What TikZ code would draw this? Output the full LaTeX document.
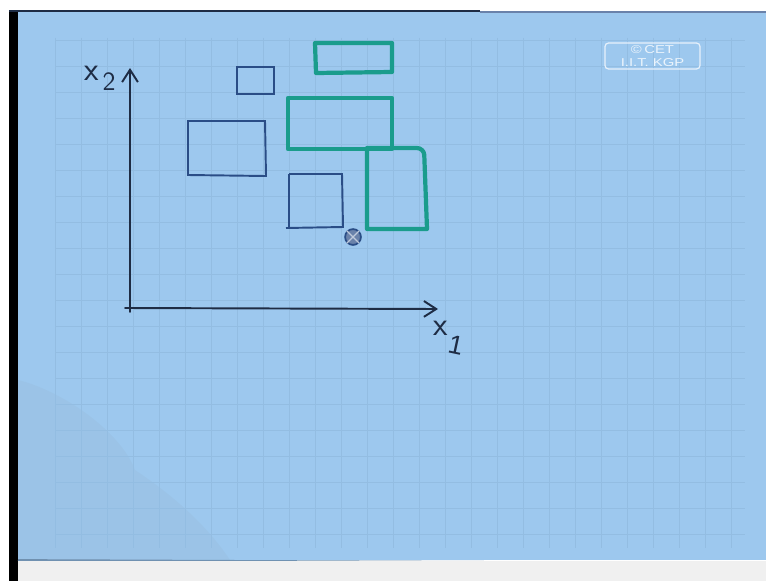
\documentclass[tikz,border=0pt]{standalone}
\usepackage{fontspec}
\newfontfamily\labelfont{Liberation Sans}
\usetikzlibrary{arrows.meta}
\definecolor{paper}{HTML}{9DC8EE}
\definecolor{gridc}{HTML}{93BDE2}
\definecolor{ink}{HTML}{1E2C44}
\definecolor{navy}{HTML}{2A4D86}
\definecolor{teal}{HTML}{1A9C8C}
\tikzset{
  bluebox/.style={draw=navy,line width=1.1pt},
  greenbox/.style={draw=teal,line width=2.4pt,line join=round},
  axis/.style={draw=ink,line width=1.1pt,line cap=round},
  hand/.style={text=ink,font=\sffamily\fontsize{19}{20}\selectfont,inner sep=0pt},
  handsub/.style={text=ink,font=\sffamily\fontsize{15}{16}\selectfont,inner sep=0pt}
}
\begin{document}
\begin{tikzpicture}[x=0.02cm,y=-0.02cm,>={Straight Barb[length=7pt,width=9pt,line width=1.1pt]}]
  \useasboundingbox (0,0) rectangle (766,581);
  \fill[white] (0,0) rectangle (766,581);

  % paper and frame
  \fill[paper] (18,12) rectangle (766,560);
  \fill[black] (9,10) rectangle (18,581);
  \draw[ink,line width=1.2pt] (9,11) -- (480,11);
  \draw[navy!70,line width=0.6pt] (480,12) -- (766,12);
  \draw[gridc!70!ink,line width=1pt] (18,560) -- (766,563);
  \fill[gray!12!white] (18,561) rectangle (766,581);

  % shadow lower left
  \fill[gray,opacity=0.06] (18,380) .. controls (60,390) and (120,430) .. (135,470)
    .. controls (180,500) and (210,530) .. (230,560) -- (18,560) -- cycle;

  % grid
  \foreach \gx in {55,81,...,745} \draw[gridc,line width=0.45pt] (\gx,38) -- (\gx,548);
  \foreach \gy in {40,66,...,548} \draw[gridc,line width=0.45pt] (55,\gy) -- (745,\gy);

  % copyright tag
  \draw[white!75!paper,line width=0.7pt,rounded corners=2pt] (605,43) rectangle (700,69);
  \node[text=white!80!paper,font=\labelfont\fontsize{6.5}{7.5}\selectfont,align=center,inner sep=0pt] (tag) at (652.5,56) {\scalebox{1.3}[1]{\copyright\,CET}\\\scalebox{1.3}[1]{I.I.T. KGP}};

  % axes
  \coordinate (Ytop) at (130,68);
  \coordinate (Xend) at (438,309);
  \draw[axis,->] (130,312) -- (Ytop);
  \draw[axis,->] (125,308) -- (Xend);
  \node[hand] (x2) at (92,73) {x};
  \node[handsub] (x2sub) at (109,82) {2};
  \node[hand] (x1) at (441,328) {x};
  \node[handsub,rotate=-12] (x1sub) at (456,345) {\labelfont 1};

  % blue boxes
  \draw[bluebox] (237,67) rectangle (274,94);
  \draw[bluebox] (188,121) -- (265,121) -- (266,176) -- (188,175) -- cycle;
  \draw[bluebox] (289,174) -- (342,174) -- (343,227) -- (286,228);
  \draw[bluebox] (289,174) -- (289,228);

  % green boxes
  \draw[greenbox] (315,43) -- (392,43) -- (392,72) -- (316,73) -- cycle;
  \draw[greenbox] (288,98) -- (392,98) -- (392,149) -- (288,149) -- cycle;
  \draw[greenbox] (367,229) -- (367,148) [rounded corners=4pt] -- (424,148) [sharp corners] -- (427,229) -- cycle;

  % query point
  \node[circle,draw=navy,fill=navy!70,line width=1pt,minimum size=9pt,inner sep=0pt] (q) at (353,237) {};
  \draw[white!70!navy,line width=0.7pt] (q.north west) -- (q.south east) (q.north east) -- (q.south west);
\end{tikzpicture}
\end{document}
